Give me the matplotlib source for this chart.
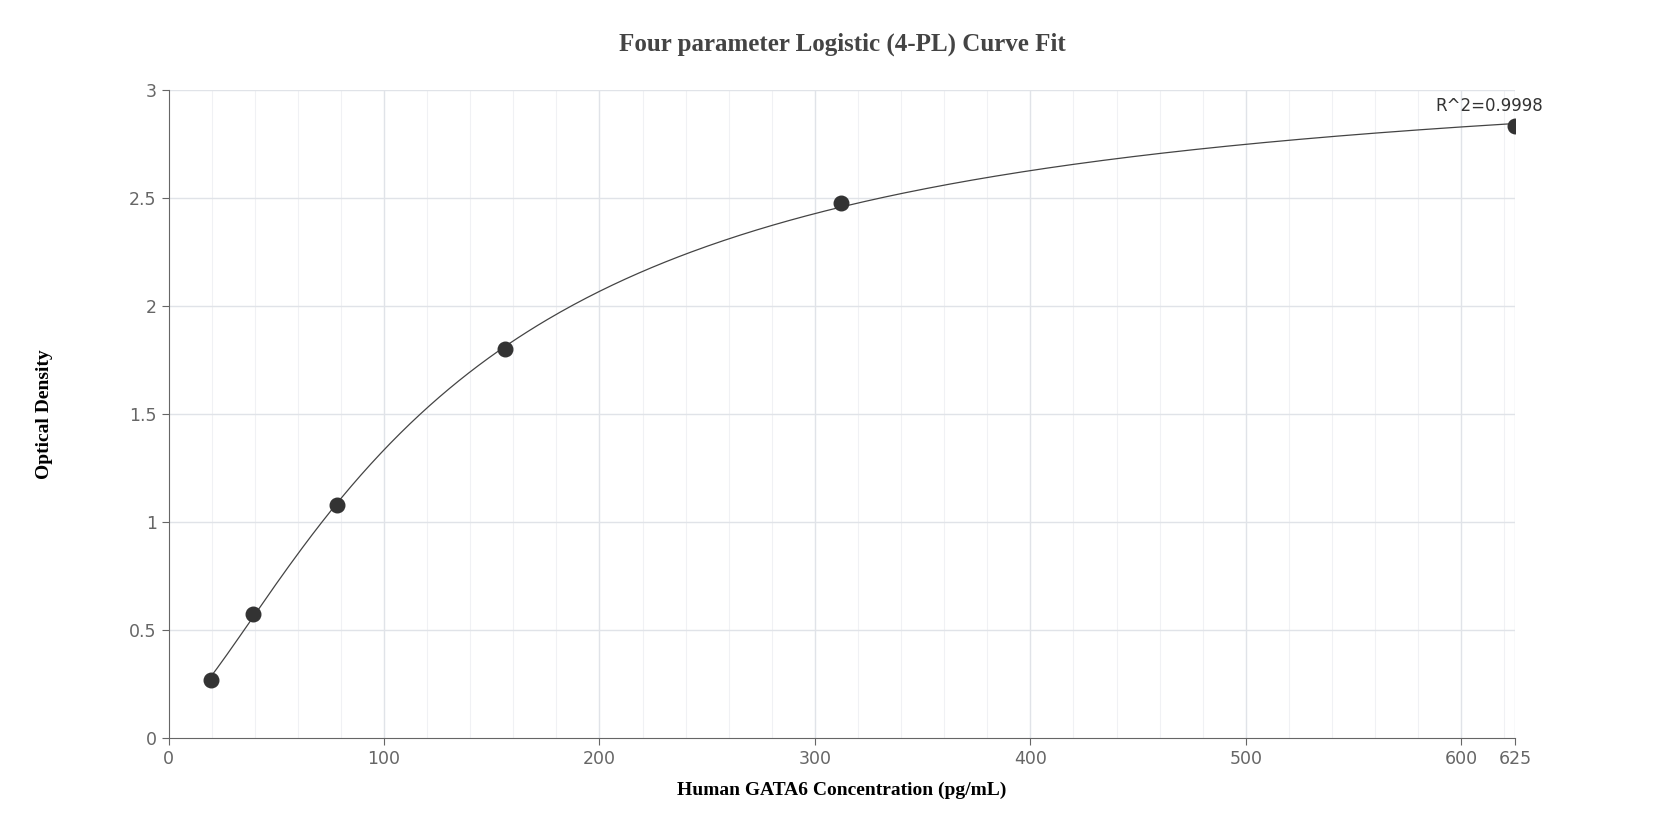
import numpy as np
import matplotlib
matplotlib.use("Agg")
import matplotlib.pyplot as plt

# standard points
conc = [19.5, 39, 78, 156, 312, 625]
od = [0.27, 0.575, 1.08, 1.80, 2.48, 2.835]
x_ticks = [0, 100, 200, 300, 400, 500, 600, 625]
y_ticks = [0, 0.5, 1, 1.5, 2, 2.5, 3]

# 4-PL fit: grid search on C,B; A,D solved linearly
xs = np.array(conc); ys = np.array(od)
best = None
for C in np.linspace(50, 600, 221):
    for B in np.linspace(0.5, 3, 126):
        g = 1.0 / (1 + (xs / C) ** B)
        M = np.vstack([g, 1 - g]).T
        coef, *_ = np.linalg.lstsq(M, ys, rcond=None)
        err = np.sum((M @ coef - ys) ** 2)
        if best is None or err < best[0]:
            best = (err, C, B, coef)
_, C, B, (A, D) = best
xf = np.linspace(conc[0], conc[-1], 400)
yf = D + (A - D) / (1 + (xf / C) ** B)

fig = plt.figure(figsize=(16.75, 8.4), dpi=100)
ax = fig.add_axes([0.1006, 0.1215, 0.804, 0.771])

for v in np.arange(20, 625, 20):
    if v % 100:
        ax.axvline(v, color="#f0f1f4", lw=0.8, zorder=0)
for v in x_ticks[1:]:
    ax.axvline(v, color="#e0e3e8", lw=1, zorder=0)
for v in y_ticks[1:]:
    ax.axhline(v, color="#e0e3e8", lw=1, zorder=0)

ax.plot(xf, yf, color="#444444", lw=0.9, zorder=2)
ax.scatter(conc, od, s=110, color="#333333", zorder=3)
ax.text(625 - 12, 2.835 + 0.05, "R^2=0.9998", ha="center", va="bottom",
        fontsize=12, color="#333333")

ax.set_xlim(0, 625)
ax.set_ylim(0, 3)
ax.set_xticks(x_ticks)
ax.set_yticks(y_ticks)
ax.set_yticklabels(["0", "0.5", "1", "1.5", "2", "2.5", "3"])
for s in ["top", "right"]:
    ax.spines[s].set_visible(False)
for s in ["left", "bottom"]:
    ax.spines[s].set_color("#666666")
ax.tick_params(colors="#666666", labelsize=12.5, length=5)

ax.set_xlabel("Human GATA6 Concentration (pg/mL)", fontfamily="Liberation Serif",
              fontweight="bold", fontsize=14, labelpad=10)
ax.set_ylabel("Optical Density", fontfamily="Liberation Serif",
              fontweight="bold", fontsize=14, labelpad=55)
fig.text(0.503, 0.94, "Four parameter Logistic (4-PL) Curve Fit", ha="center",
         fontfamily="Liberation Serif", fontweight="bold", fontsize=18, color="#444444")

fig.savefig("out.png")
